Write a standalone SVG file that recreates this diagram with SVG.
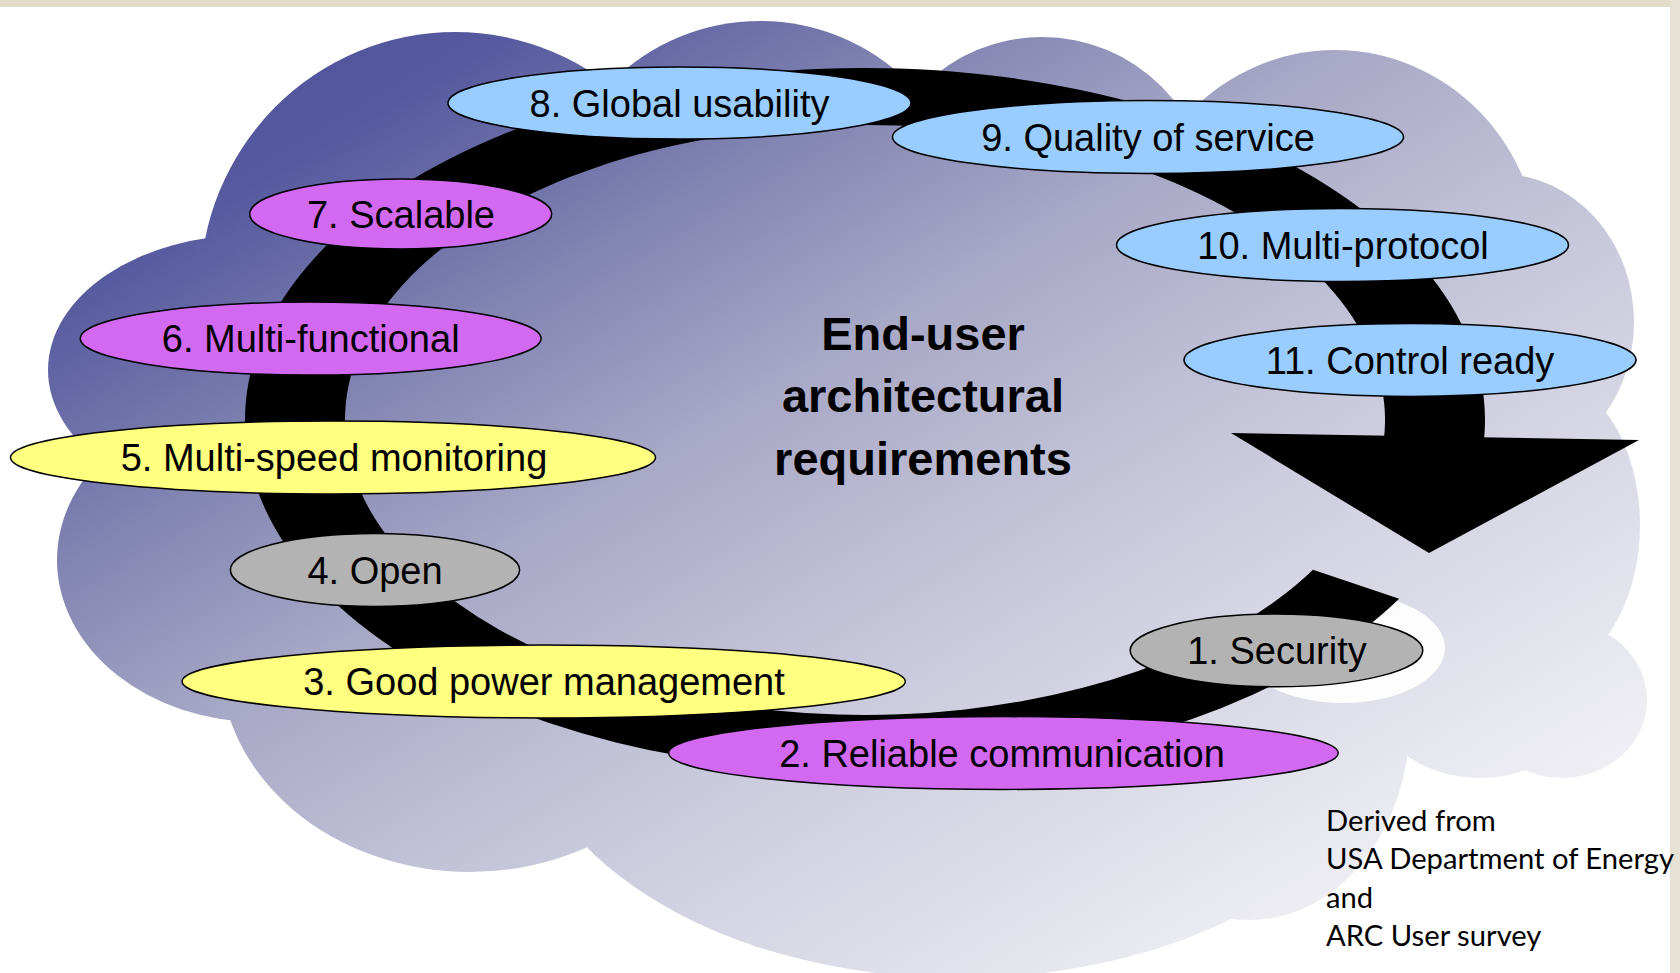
<svg xmlns="http://www.w3.org/2000/svg" width="1680" height="973" viewBox="0 0 1680 973">
<defs>
<linearGradient id="cloudGrad" gradientUnits="userSpaceOnUse" x1="45" y1="20" x2="884" y2="1431">
<stop offset="0" stop-color="#4b4e98"/>
<stop offset="0.15" stop-color="#56599e"/>
<stop offset="0.30" stop-color="#8587b3"/>
<stop offset="0.42" stop-color="#a8a8c7"/>
<stop offset="0.60" stop-color="#c9c9dc"/>
<stop offset="0.85" stop-color="#ececf2"/>
<stop offset="1" stop-color="#f7f7fa"/>
</linearGradient>
</defs>
<style>
.cloud{fill:url(#cloudGrad);stroke:none}
.node{stroke:#000;stroke-width:1.5}
.blue{fill:#99ccff}
.violet{fill:#d269f0}
.yellow{fill:#ffff80}
.gray{fill:#b3b3b3}
.lbl{font-family:"Liberation Sans",Arial,sans-serif;font-size:38px;fill:#000;text-anchor:middle}
.title{font-family:"Liberation Sans",Arial,sans-serif;font-size:47px;font-weight:bold;fill:#000;text-anchor:middle}
.src{font-family:Lato,"Open Sans",sans-serif;font-size:29.2px;fill:#000}
.band{fill:#000}
</style>
<rect x="0" y="0" width="1680" height="973" fill="#ffffff"/>
<rect x="0" y="0" width="1680" height="7" fill="#e3dccb"/>
<rect x="1670" y="0" width="10" height="973" fill="#e6e1d3"/>

<g id="cloud">
<polygon class="cloud" points="300,200 700,120 1100,120 1400,200 1560,330 1560,600 1400,750 900,800 400,780 150,600 150,350"/>
<ellipse class="cloud" cx="455" cy="290" rx="255" ry="258"/>
<circle class="cloud" cx="760" cy="232" r="211"/>
<circle class="cloud" cx="1042" cy="206" r="169"/>
<ellipse class="cloud" cx="1335" cy="262" rx="205" ry="212"/>
<ellipse class="cloud" cx="1500" cy="322" rx="134" ry="148"/>
<ellipse class="cloud" cx="1540" cy="525" rx="100" ry="150"/>
<ellipse class="cloud" cx="1562" cy="700" rx="85" ry="78"/>
<ellipse class="cloud" cx="1480" cy="690" rx="110" ry="88"/>
<ellipse class="cloud" cx="1250" cy="720" rx="160" ry="200"/>
<ellipse class="cloud" cx="960" cy="700" rx="440" ry="278"/>
<ellipse class="cloud" cx="470" cy="660" rx="250" ry="212"/>
<ellipse class="cloud" cx="260" cy="560" rx="203" ry="162"/>
<ellipse class="cloud" cx="250" cy="370" rx="202" ry="135"/>
<ellipse cx="1343" cy="648" rx="102" ry="55" fill="#ffffff" opacity="0.92"/>
</g>

<g id="connectors">
<path class="band" d="M1399.2,598.7 A620,352 0 1 1 1484,440 L1383.8,440 A520,295 0 1 0 1313,569.7 Z"/>
<polygon class="band" points="1231,433 1639,440 1429,553"/>
</g>

<g id="node8"><ellipse class="node blue" cx="679.5" cy="103" rx="231.5" ry="36"/><text class="lbl" x="679.5" y="116.5">8. Global usability</text></g>
<g id="node9"><ellipse class="node blue" cx="1148" cy="137" rx="255.5" ry="36.5"/><text class="lbl" x="1148" y="150.5">9. Quality of service</text></g>
<g id="node7"><ellipse class="node violet" cx="400.7" cy="214" rx="151" ry="35"/><text class="lbl" x="401" y="227.5">7. Scalable</text></g>
<g id="node10"><ellipse class="node blue" cx="1342.5" cy="245" rx="226" ry="36.5"/><text class="lbl" x="1343" y="258.5">10. Multi-protocol</text></g>
<g id="node6"><ellipse class="node violet" cx="310.7" cy="338.6" rx="230.4" ry="36.5"/><text class="lbl" x="310.7" y="352">6. Multi-functional</text></g>
<g id="node11"><ellipse class="node blue" cx="1410" cy="360" rx="226" ry="36.4"/><text class="lbl" x="1410" y="373.5">11. Control ready</text></g>
<g id="node5"><ellipse class="node yellow" cx="333" cy="457.5" rx="322.5" ry="36.5"/><text class="lbl" x="334" y="471">5. Multi-speed monitoring</text></g>
<g id="node4"><ellipse class="node gray" cx="375" cy="570" rx="144.6" ry="36.4"/><text class="lbl" x="375" y="583.5">4. Open</text></g>
<g id="node3"><ellipse class="node yellow" cx="543.7" cy="681.5" rx="361.6" ry="36.5"/><text class="lbl" x="544" y="695">3. Good power management</text></g>
<g id="node2"><ellipse class="node violet" cx="1003.4" cy="753" rx="334.8" ry="36.4"/><text class="lbl" x="1002" y="766.5">2. Reliable communication</text></g>
<g id="node1"><ellipse class="node gray" cx="1276.5" cy="650.4" rx="146.3" ry="36.4"/><text class="lbl" x="1277" y="664">1. Security</text></g>

<g id="title">
<text class="title" x="923" y="350">End-user</text>
<text class="title" x="923" y="412">architectural</text>
<text class="title" x="923" y="475">requirements</text>
</g>

<g id="source">
<text class="src" x="1326" y="831">Derived from</text>
<text class="src" x="1326" y="869">USA Department of Energy</text>
<text class="src" x="1326" y="908">and</text>
<text class="src" x="1326" y="946">ARC User survey</text>
</g>
</svg>
